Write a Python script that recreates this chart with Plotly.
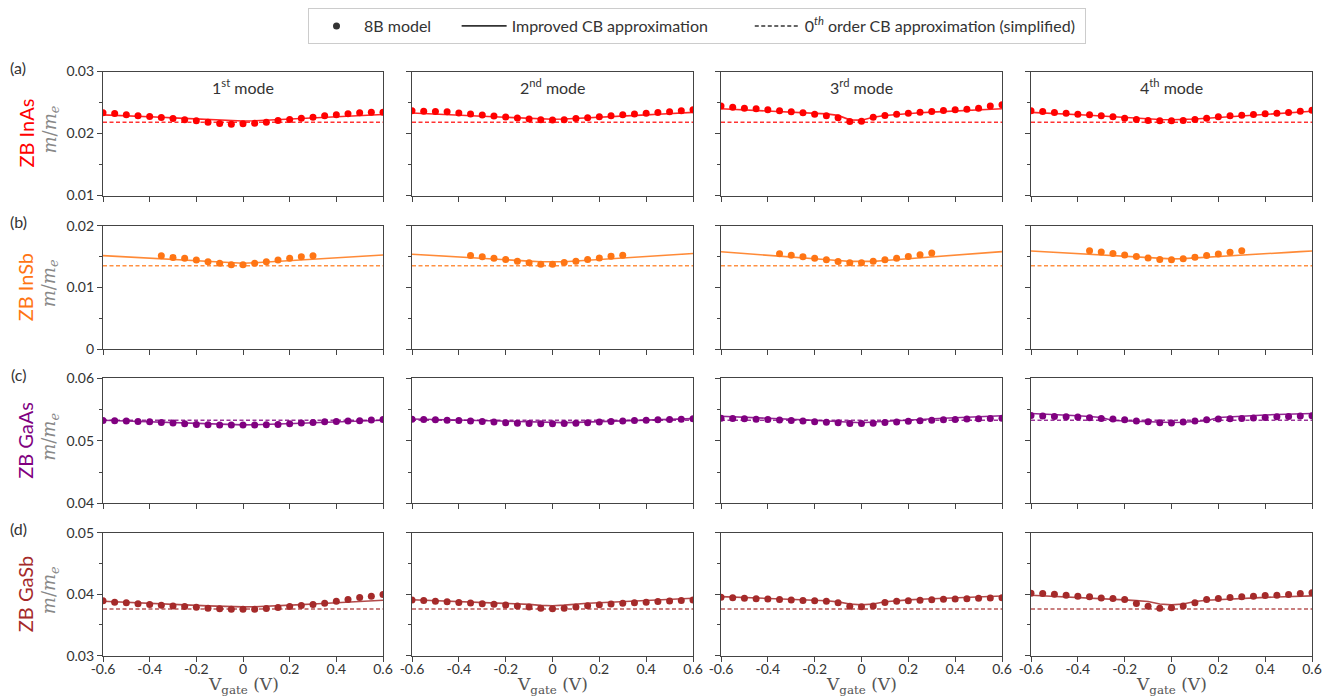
import plotly.graph_objects as go

# ---------------- data ----------------
V = [-0.6, -0.55, -0.5, -0.45, -0.4, -0.35, -0.3, -0.25, -0.2, -0.15, -0.1, -0.05, 0.0,
     0.05, 0.1, 0.15, 0.2, 0.25, 0.3, 0.35, 0.4, 0.45, 0.5, 0.55, 0.6]
V_insb = [-0.35, -0.3, -0.25, -0.2, -0.15, -0.1, -0.05, 0.0, 0.05, 0.1, 0.15, 0.2, 0.25, 0.3]
V_ends = [-0.6, 0.6]

materials = ["ZB InAs", "ZB InSb", "ZB GaAs", "ZB GaSb"]
panel_letters = ["(a)", "(b)", "(c)", "(d)"]
mode_titles = ["1<sup>st</sup> mode", "2<sup>nd</sup> mode", "3<sup>rd</sup> mode", "4<sup>th</sup> mode"]
colors = ["#ff0000", "#ff7514", "#800080", "#a52a2a"]
y_ranges = [[0.01, 0.03], [0.0, 0.02], [0.04, 0.06], [0.03, 0.05]]
x_ticks = [-0.6, -0.4, -0.2, 0.0, 0.2, 0.4, 0.6]
x_ticklabels = ["-0.6", "-0.4", "-0.2", "0", "0.2", "0.4", "0.6"]

# 0th order CB approximation (constant)
zeroth_inas = 0.0218
zeroth_insb = 0.0135
zeroth_gaas = 0.0533
zeroth_gasb = 0.0376

# ---- ZB InAs ----
inas_8b_1 = [0.02333, 0.02323, 0.02301, 0.02285, 0.02274, 0.02258, 0.02242, 0.02220, 0.02204, 0.02183, 0.02161, 0.02151, 0.02156,
             0.02167, 0.02183, 0.02210, 0.02226, 0.02247, 0.02263, 0.02285, 0.02301, 0.02317, 0.02333, 0.02344, 0.02344]
inas_cb_1 = [0.02300, 0.02294, 0.02287, 0.02279, 0.02271, 0.02262, 0.02252, 0.02242, 0.02232, 0.02223, 0.02214, 0.02206, 0.02202,
             0.02206, 0.02214, 0.02223, 0.02232, 0.02242, 0.02252, 0.02262, 0.02272, 0.02281, 0.02290, 0.02298, 0.02306]
inas_8b_2 = [0.02366, 0.02360, 0.02355, 0.02350, 0.02330, 0.02314, 0.02298, 0.02281, 0.02265, 0.02249, 0.02233, 0.02220, 0.02218,
             0.02222, 0.02240, 0.02256, 0.02272, 0.02288, 0.02302, 0.02314, 0.02327, 0.02339, 0.02350, 0.02366, 0.02382]
inas_cb_2 = [0.02330, 0.02323, 0.02315, 0.02307, 0.02298, 0.02289, 0.02279, 0.02269, 0.02259, 0.02249, 0.02240, 0.02233, 0.02230,
             0.02233, 0.02241, 0.02250, 0.02260, 0.02270, 0.02280, 0.02290, 0.02300, 0.02310, 0.02320, 0.02330, 0.02340]
inas_8b_3 = [0.02442, 0.02425, 0.02409, 0.02399, 0.02383, 0.02367, 0.02351, 0.02334, 0.02312, 0.02286, 0.02253, 0.02193, 0.02198,
             0.02263, 0.02290, 0.02312, 0.02328, 0.02344, 0.02355, 0.02372, 0.02383, 0.02393, 0.02409, 0.02442, 0.02464]
inas_cb_3 = [0.02400, 0.02392, 0.02384, 0.02376, 0.02368, 0.02360, 0.02352, 0.02342, 0.02330, 0.02316, 0.02292, 0.02220, 0.02215,
             0.02262, 0.02290, 0.02308, 0.02322, 0.02334, 0.02344, 0.02354, 0.02363, 0.02372, 0.02381, 0.02390, 0.02398]
inas_8b_4 = [0.02366, 0.02355, 0.02339, 0.02327, 0.02311, 0.02302, 0.02285, 0.02269, 0.02247, 0.02226, 0.02210, 0.02205, 0.02205,
             0.02210, 0.02226, 0.02247, 0.02269, 0.02285, 0.02295, 0.02306, 0.02318, 0.02327, 0.02339, 0.02360, 0.02376]
inas_cb_4 = [0.02340, 0.02333, 0.02325, 0.02316, 0.02306, 0.02295, 0.02283, 0.02270, 0.02256, 0.02243, 0.02232, 0.02225, 0.02222,
             0.02225, 0.02233, 0.02245, 0.02258, 0.02272, 0.02286, 0.02299, 0.02311, 0.02323, 0.02334, 0.02346, 0.02358]

# ---- ZB InSb ----
insb_8b_1 = [0.01514, 0.01486, 0.01470, 0.01443, 0.01416, 0.01389, 0.01368, 0.01368, 0.01389, 0.01416, 0.01443, 0.01470, 0.01497, 0.01514]
insb_cb_1 = [0.01514, 0.01504, 0.01494, 0.01484, 0.01474, 0.01464, 0.01454, 0.01444, 0.01433, 0.01422, 0.01410, 0.01398, 0.01390,
             0.01398, 0.01410, 0.01422, 0.01434, 0.01446, 0.01458, 0.01469, 0.01480, 0.01491, 0.01502, 0.01513, 0.01524]
insb_8b_2 = [0.01516, 0.01495, 0.01473, 0.01452, 0.01425, 0.01398, 0.01376, 0.01376, 0.01403, 0.01425, 0.01452, 0.01478, 0.01505, 0.01522]
insb_cb_2 = [0.01538, 0.01528, 0.01517, 0.01506, 0.01495, 0.01484, 0.01473, 0.01462, 0.01450, 0.01438, 0.01426, 0.01415, 0.01409,
             0.01415, 0.01427, 0.01439, 0.01451, 0.01463, 0.01475, 0.01487, 0.01499, 0.01511, 0.01523, 0.01536, 0.01548]
insb_8b_3 = [0.01545, 0.01522, 0.01497, 0.01473, 0.01447, 0.01420, 0.01398, 0.01398, 0.01422, 0.01447, 0.01473, 0.01500, 0.01528, 0.01556]
insb_cb_3 = [0.01577, 0.01564, 0.01551, 0.01537, 0.01523, 0.01509, 0.01495, 0.01480, 0.01465, 0.01450, 0.01435, 0.01421, 0.01415,
             0.01421, 0.01436, 0.01451, 0.01466, 0.01481, 0.01496, 0.01511, 0.01526, 0.01540, 0.01554, 0.01567, 0.01580]
insb_8b_4 = [0.01593, 0.01572, 0.01548, 0.01525, 0.01500, 0.01475, 0.01452, 0.01447, 0.01465, 0.01490, 0.01515, 0.01540, 0.01568, 0.01593]
insb_cb_4 = [0.01590, 0.01579, 0.01568, 0.01557, 0.01546, 0.01535, 0.01524, 0.01512, 0.01500, 0.01488, 0.01476, 0.01466, 0.01462,
             0.01466, 0.01476, 0.01488, 0.01500, 0.01512, 0.01524, 0.01535, 0.01546, 0.01557, 0.01568, 0.01579, 0.01590]

# ---- ZB GaAs ----
gaas_8b_1 = [0.05325, 0.05320, 0.05315, 0.05309, 0.05304, 0.05293, 0.05283, 0.05272, 0.05261, 0.05256, 0.05251, 0.05251, 0.05251,
             0.05251, 0.05256, 0.05261, 0.05272, 0.05283, 0.05293, 0.05304, 0.05309, 0.05315, 0.05320, 0.05331, 0.05341]
gaas_cb_1 = [0.05328, 0.05322, 0.05316, 0.05310, 0.05303, 0.05296, 0.05289, 0.05281, 0.05273, 0.05266, 0.05260, 0.05256, 0.05255,
             0.05256, 0.05260, 0.05266, 0.05273, 0.05281, 0.05289, 0.05297, 0.05304, 0.05311, 0.05318, 0.05324, 0.05330]
gaas_8b_2 = [0.05346, 0.05341, 0.05336, 0.05330, 0.05324, 0.05317, 0.05309, 0.05300, 0.05290, 0.05282, 0.05275, 0.05271, 0.05271,
             0.05275, 0.05282, 0.05290, 0.05300, 0.05309, 0.05317, 0.05324, 0.05330, 0.05336, 0.05341, 0.05346, 0.05351]
gaas_cb_2 = [0.05350, 0.05345, 0.05340, 0.05335, 0.05329, 0.05323, 0.05317, 0.05311, 0.05305, 0.05299, 0.05294, 0.05291, 0.05290,
             0.05291, 0.05295, 0.05300, 0.05306, 0.05312, 0.05318, 0.05324, 0.05330, 0.05336, 0.05342, 0.05348, 0.05355]
gaas_8b_3 = [0.05362, 0.05357, 0.05352, 0.05346, 0.05340, 0.05333, 0.05325, 0.05316, 0.05306, 0.05296, 0.05287, 0.05278, 0.05276,
             0.05282, 0.05292, 0.05302, 0.05312, 0.05321, 0.05329, 0.05336, 0.05342, 0.05348, 0.05353, 0.05358, 0.05362]
gaas_cb_3 = [0.05394, 0.05387, 0.05379, 0.05371, 0.05363, 0.05355, 0.05346, 0.05337, 0.05327, 0.05316, 0.05305, 0.05294, 0.05290,
             0.05300, 0.05312, 0.05323, 0.05334, 0.05344, 0.05353, 0.05362, 0.05370, 0.05378, 0.05386, 0.05393, 0.05400]
gaas_8b_4 = [0.05405, 0.05395, 0.05389, 0.05384, 0.05379, 0.05368, 0.05357, 0.05347, 0.05336, 0.05315, 0.05304, 0.05288, 0.05283,
             0.05299, 0.05315, 0.05336, 0.05347, 0.05352, 0.05357, 0.05363, 0.05373, 0.05384, 0.05389, 0.05395, 0.05400]
gaas_cb_4 = [0.05437, 0.05430, 0.05422, 0.05412, 0.05400, 0.05388, 0.05373, 0.05325, 0.05318, 0.05310, 0.05302, 0.05295, 0.05293,
             0.05298, 0.05308, 0.05320, 0.05373, 0.05385, 0.05396, 0.05405, 0.05413, 0.05420, 0.05426, 0.05432, 0.05437]

# ---- ZB GaSb ----
gasb_8b_1 = [0.03892, 0.03870, 0.03859, 0.03843, 0.03832, 0.03821, 0.03810, 0.03799, 0.03789, 0.03772, 0.03762, 0.03756, 0.03756,
             0.03756, 0.03767, 0.03783, 0.03799, 0.03816, 0.03832, 0.03854, 0.03886, 0.03913, 0.03946, 0.03967, 0.03995]
gasb_cb_1 = [0.03886, 0.03879, 0.03871, 0.03863, 0.03855, 0.03846, 0.03837, 0.03828, 0.03819, 0.03810, 0.03802, 0.03796, 0.03794,
             0.03797, 0.03803, 0.03811, 0.03820, 0.03830, 0.03840, 0.03850, 0.03860, 0.03870, 0.03880, 0.03891, 0.03902]
gasb_8b_2 = [0.03906, 0.03896, 0.03886, 0.03876, 0.03866, 0.03856, 0.03846, 0.03835, 0.03823, 0.03809, 0.03793, 0.03772, 0.03762,
             0.03772, 0.03793, 0.03812, 0.03828, 0.03840, 0.03851, 0.03861, 0.03871, 0.03881, 0.03890, 0.03898, 0.03906]
gasb_cb_2 = [0.03910, 0.03903, 0.03896, 0.03889, 0.03882, 0.03875, 0.03868, 0.03861, 0.03854, 0.03846, 0.03834, 0.03818, 0.03813,
             0.03822, 0.03840, 0.03852, 0.03862, 0.03872, 0.03882, 0.03891, 0.03900, 0.03909, 0.03917, 0.03925, 0.03933]
gasb_8b_3 = [0.03950, 0.03943, 0.03935, 0.03927, 0.03920, 0.03913, 0.03906, 0.03899, 0.03893, 0.03887, 0.03863, 0.03805, 0.03797,
             0.03810, 0.03866, 0.03884, 0.03893, 0.03901, 0.03909, 0.03916, 0.03922, 0.03928, 0.03934, 0.03939, 0.03943]
gasb_cb_3 = [0.03960, 0.03953, 0.03946, 0.03939, 0.03932, 0.03925, 0.03918, 0.03911, 0.03903, 0.03894, 0.03875, 0.03840, 0.03826,
             0.03840, 0.03878, 0.03897, 0.03908, 0.03917, 0.03926, 0.03934, 0.03942, 0.03950, 0.03957, 0.03964, 0.03970]
gasb_8b_4 = [0.04016, 0.04011, 0.04000, 0.03984, 0.03967, 0.03957, 0.03940, 0.03930, 0.03913, 0.03848, 0.03805, 0.03772, 0.03778,
             0.03810, 0.03859, 0.03913, 0.03930, 0.03946, 0.03957, 0.03967, 0.03978, 0.03984, 0.03995, 0.04011, 0.04022]
gasb_cb_4 = [0.03984, 0.03976, 0.03968, 0.03959, 0.03950, 0.03940, 0.03930, 0.03919, 0.03908, 0.03896, 0.03881, 0.03840, 0.03827,
             0.03840, 0.03881, 0.03902, 0.03913, 0.03923, 0.03932, 0.03940, 0.03948, 0.03955, 0.03962, 0.03968, 0.03973]

eightband = [[inas_8b_1, inas_8b_2, inas_8b_3, inas_8b_4],
             [insb_8b_1, insb_8b_2, insb_8b_3, insb_8b_4],
             [gaas_8b_1, gaas_8b_2, gaas_8b_3, gaas_8b_4],
             [gasb_8b_1, gasb_8b_2, gasb_8b_3, gasb_8b_4]]
improved = [[inas_cb_1, inas_cb_2, inas_cb_3, inas_cb_4],
            [insb_cb_1, insb_cb_2, insb_cb_3, insb_cb_4],
            [gaas_cb_1, gaas_cb_2, gaas_cb_3, gaas_cb_4],
            [gasb_cb_1, gasb_cb_2, gasb_cb_3, gasb_cb_4]]
zeroth = [zeroth_inas, zeroth_insb, zeroth_gaas, zeroth_gasb]
point_x = [V, V_insb, V, V]

# ---------------- layout geometry (screen pixels) ----------------
W, H = 1334, 697
OFF = 8  # page body margin
col_px = [(103, 383), (412, 693), (721, 1002), (1031, 1312)]
row_px = [(71.5, 195.5), (225.7, 349.0), (378.3, 503.3), (532.7, 655.7)]

def hx(p):
    return (p - OFF) / W

def hy(p):
    return 1 - (p - OFF) / H

def rgba(hexc, a):
    h = hexc.lstrip("#")
    r, g, b = int(h[0:2], 16), int(h[2:4], 16), int(h[4:6], 16)
    return f"rgba({r},{g},{b},{a})"

fig = go.Figure()
layout = {}
axis_col = "#444"
sans = "Lato, DejaVu Sans, sans-serif"
serif = "DejaVu Serif, Liberation Serif, serif"
tick_font = dict(family=sans, size=14, color="#333")
annotations = []
DASH = "4px,2.5px"

def ann(text, x, y, font, angle=0):
    return dict(text=text, x=hx(x), y=hy(y), xref="paper", yref="paper", showarrow=False,
                xanchor="center", yanchor="middle", textangle=angle, font=font)

for r in range(4):
    for c in range(4):
        idx = r * 4 + c + 1
        xa = "x" if idx == 1 else f"x{idx}"
        ya = "y" if idx == 1 else f"y{idx}"
        col = colors[r]
        fig.add_trace(go.Scatter(x=V_ends, y=[zeroth[r], zeroth[r]], mode="lines",
                                 line=dict(color=rgba(col, 0.8), width=1.5, dash=DASH),
                                 xaxis=xa, yaxis=ya, showlegend=False, hoverinfo="skip"))
        fig.add_trace(go.Scatter(x=V, y=improved[r][c], mode="lines",
                                 line=dict(color=rgba(col, 0.85), width=1.6),
                                 xaxis=xa, yaxis=ya, showlegend=False))
        fig.add_trace(go.Scatter(x=point_x[r], y=eightband[r][c], mode="markers",
                                 marker=dict(color=col, size=7),
                                 xaxis=xa, yaxis=ya, showlegend=False))
        x0, x1 = col_px[c]
        y0, y1 = row_px[r]
        layout["xaxis" if idx == 1 else f"xaxis{idx}"] = dict(
            domain=[hx(x0), hx(x1)], anchor=ya, range=[-0.6, 0.6], automargin=False,
            tickvals=x_ticks, ticktext=x_ticklabels, showticklabels=(r == 3),
            ticklabelstandoff=-5,
            ticks="outside", ticklen=5, tickcolor=axis_col, tickwidth=1,
            showline=True, linecolor=axis_col, linewidth=1.2, mirror=True,
            showgrid=False, zeroline=False, tickfont=tick_font)
        layout["yaxis" if idx == 1 else f"yaxis{idx}"] = dict(
            domain=[hy(y1), hy(y0)], anchor=xa, range=y_ranges[r], automargin=False,
            dtick=0.01, showticklabels=(c == 0), tickformat="~g",
            ticks="outside", ticklen=5, tickcolor=axis_col, tickwidth=1,
            minor=dict(dtick=0.005, ticks="outside", ticklen=3, tickcolor=axis_col),
            showline=True, linecolor=axis_col, linewidth=1.2, mirror=True,
            showgrid=False, zeroline=False, tickfont=tick_font)
        if r == 0:
            annotations.append(ann(mode_titles[c], (x0 + x1) / 2, 86,
                                   dict(family=sans, size=16, color="#333")))
        if r == 3:
            annotations.append(ann("V<sub>gate</sub> (V)", (x0 + x1) / 2, 685,
                                   dict(family=serif, size=17, color="#555")))
    ym = (row_px[r][0] + row_px[r][1]) / 2
    annotations.append(ann(materials[r], 25, ym, dict(family=sans, size=20, color=colors[r]), -90))
    annotations.append(ann("<i>m</i>/<i>m</i><sub><i>e</i></sub>", 50, ym - 4,
                           dict(family=serif, size=18, color="#888"), -90))
    annotations.append(ann(panel_letters[r], 18, row_px[r][0] - 4, dict(family=sans, size=16, color="#333")))

# legend entries
fig.add_trace(go.Scatter(x=[None], y=[None], mode="markers", marker=dict(color="#333", size=7),
                         name="8B model\u00a0\u00a0\u00a0\u00a0\u00a0"))
fig.add_trace(go.Scatter(x=[None], y=[None], mode="lines", line=dict(color="#333", width=1.6),
                         name="Improved CB approximation\u00a0\u00a0\u00a0\u00a0\u00a0\u00a0\u00a0\u00a0\u00a0"))
fig.add_trace(go.Scatter(x=[None], y=[None], mode="lines", line=dict(color="#333", width=1.5, dash=DASH),
                         name="0<sup><i>th</i></sup> order CB approximation (simplified)\u00a0"))

fig.update_layout(
    width=W, height=H, margin=dict(l=0, r=0, t=0, b=0, autoexpand=False),
    plot_bgcolor="white", paper_bgcolor="white",
    annotations=annotations,
    legend=dict(orientation="h", x=hx(697), xanchor="center", y=hy(8), yanchor="top",
                bordercolor="#ccc", borderwidth=1, bgcolor="white",
                font=dict(family=sans, size=16, color="#333"),
                itemwidth=45),
    **layout,
)

fig.write_html("out.html")
